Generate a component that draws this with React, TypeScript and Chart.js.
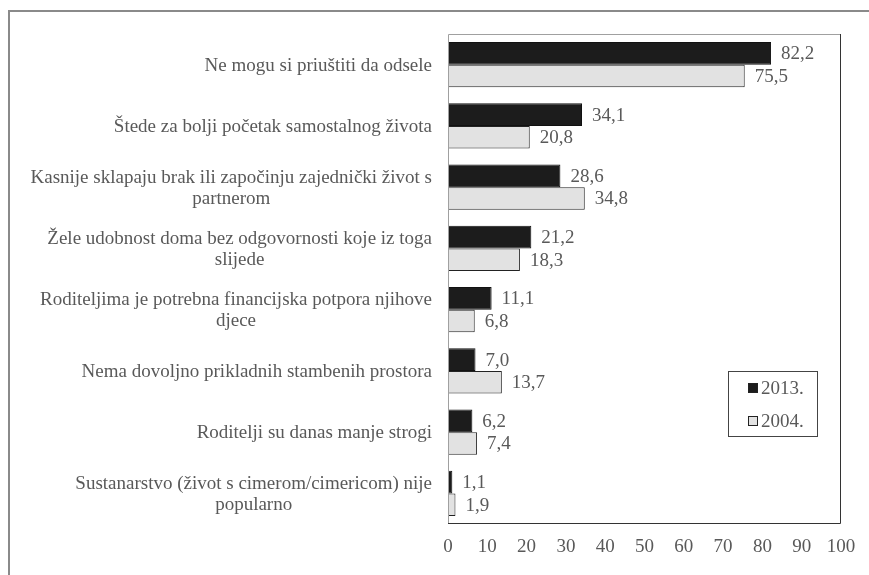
import React, { useEffect, useRef } from "react";
import { Chart, registerables } from "chart.js";

Chart.register(...registerables);

const categories: string[][] = [
  ["Ne mogu si priuštiti da odsele"],
  ["Štede za bolji početak samostalnog života"],
  ["Kasnije sklapaju brak ili započinju zajednički život s", "partnerom"],
  ["Žele udobnost doma bez odgovornosti koje iz toga", "slijede"],
  ["Roditeljima je potrebna financijska potpora njihove", "djece"],
  ["Nema dovoljno prikladnih stambenih prostora"],
  ["Roditelji su danas manje strogi"],
  ["Sustanarstvo (život s cimerom/cimericom) nije", "popularno"],
];

const series2013: number[] = [82.2, 34.1, 28.6, 21.2, 11.1, 7.0, 6.2, 1.1];
const series2004: number[] = [75.5, 20.8, 34.8, 18.3, 6.8, 13.7, 7.4, 1.9];
const seriesNames: string[] = ["2013.", "2004."];
const xTicks: number[] = [0, 10, 20, 30, 40, 50, 60, 70, 80, 90, 100];

const FONT = "'Liberation Serif', 'Times New Roman', serif";
const FSIZE = 19;
const TEXT = "#595959";
const COLORS = ["#1c1c1c", "#e2e2e2"];

const fmt = (v: number) => v.toFixed(1).replace(".", ",");

const customPlugin = {
  id: "custom",
  afterDraw(chart: any) {
    const ctx = chart.ctx;
    const ca = chart.chartArea;
    const yScale = chart.scales.y;
    ctx.save();
    // outer frame
    ctx.strokeStyle = "#8a8a8a";
    ctx.lineWidth = 2;
    ctx.beginPath();
    ctx.moveTo(9, 575);
    ctx.lineTo(9, 11);
    ctx.lineTo(869, 11);
    ctx.stroke();

    // plot border
    ctx.lineWidth = 1;
    ctx.strokeStyle = "#a0a0a0";
    ctx.beginPath();
    ctx.moveTo(ca.left + 0.5, ca.bottom);
    ctx.lineTo(ca.left + 0.5, ca.top + 0.5);
    ctx.lineTo(ca.right, ca.top + 0.5);
    ctx.stroke();
    ctx.strokeStyle = "#333333";
    ctx.beginPath();
    ctx.moveTo(ca.right - 0.5, ca.top);
    ctx.lineTo(ca.right - 0.5, ca.bottom - 0.5);
    ctx.lineTo(ca.left, ca.bottom - 0.5);
    ctx.stroke();

    // category labels: lines centered, block right aligned
    ctx.font = FSIZE + "px " + FONT;
    ctx.fillStyle = TEXT;
    ctx.textBaseline = "middle";
    ctx.textAlign = "center";
    const rightX = ca.left - 16;
    const lh = 21;
    categories.forEach((lines, i) => {
      const yc = yScale.getPixelForValue(i);
      const widest = Math.max(...lines.map((l) => ctx.measureText(l).width));
      const cx = rightX - widest / 2;
      const y0 = yc - ((lines.length - 1) * lh) / 2 + 1;
      lines.forEach((l, j) => ctx.fillText(l, cx, y0 + j * lh));
    });

    // value labels
    ctx.textAlign = "left";
    chart.data.datasets.forEach((ds: any, di: number) => {
      const meta = chart.getDatasetMeta(di);
      meta.data.forEach((bar: any, i: number) => {
        ctx.fillText(fmt(ds.data[i]), bar.x + 10, bar.y + 1);
      });
    });

    // legend
    const bx = ca.right - 113;
    const by = ca.top + 337;
    const bw = 89;
    const bh = 65;
    ctx.strokeStyle = "#444";
    ctx.lineWidth = 1;
    ctx.strokeRect(bx + 0.5, by + 0.5, bw, bh);
    seriesNames.forEach((name, i) => {
      const yc = by + 17 + i * 33;
      ctx.fillStyle = COLORS[i];
      ctx.fillRect(bx + 20.5, yc - 4.5, 9, 9);
      ctx.strokeStyle = "#222";
      ctx.strokeRect(bx + 20.5, yc - 4.5, 9, 9);
      ctx.fillStyle = TEXT;
      ctx.fillText(name, bx + 33, yc + 1);
    });
    ctx.restore();
  },
};

export default function App() {
  const ref = useRef<HTMLCanvasElement>(null);
  useEffect(() => {
    if (!ref.current) return;
    const chart = new Chart(ref.current, {
      type: "bar",
      data: {
        labels: categories.map((c) => c.join(" ")),
        datasets: [
          {
            label: seriesNames[0],
            data: series2013,
            backgroundColor: COLORS[0],
            borderColor: "#111",
            borderWidth: 1,
            categoryPercentage: 0.735,
            barPercentage: 1.0,
          },
          {
            label: seriesNames[1],
            data: series2004,
            backgroundColor: COLORS[1],
            borderColor: "#222",
            borderWidth: 1,
            categoryPercentage: 0.735,
            barPercentage: 1.0,
          },
        ],
      },
      options: {
        indexAxis: "y",
        animation: false,
        responsive: false,
        maintainAspectRatio: false,
        layout: { padding: { left: 448, top: 34, right: 28, bottom: 0 } },
        plugins: { legend: { display: false }, tooltip: { enabled: false } },
        scales: {
          y: { display: false },
          x: {
            min: 0,
            max: 100,
            afterBuildTicks: (scale: any) => {
              scale.ticks = xTicks.map((v) => ({ value: v }));
            },
            afterFit: (scale: any) => {
              scale.height = 51;
            },
            grid: { display: false, drawTicks: false },
            border: { display: false },
            ticks: {
              padding: 12,
              color: TEXT,
              font: { family: FONT, size: FSIZE },
              maxRotation: 0,
              autoSkip: false,
            },
          },
        },
      },
      plugins: [customPlugin],
    });
    return () => chart.destroy();
  }, []);
  return (
    <div style={{ position: "fixed", left: 0, top: 0, width: 869, height: 575, background: "#fff" }}>
      <canvas ref={ref} width={869} height={575} style={{ display: "block" }} />
    </div>
  );
}
